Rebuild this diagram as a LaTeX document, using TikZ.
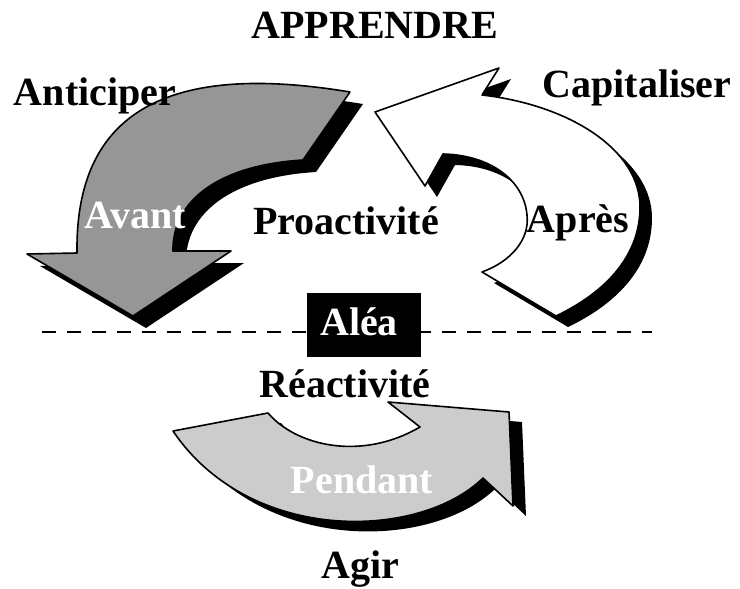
\documentclass[tikz,border=0pt]{standalone}
\usepackage{fontspec}
\setmainfont{Liberation Serif}
\begin{document}
\definecolor{avantgray}{RGB}{150,150,150}
\definecolor{pendantgray}{RGB}{204,204,204}
% outlines of the three curved block arrows, in pixel-like units
\def\avantpath{(350,92) .. controls (170,62) and (75,110) .. (77,253)
  -- (27,254) -- (133,316) -- (231,251) -- (173,251)
  .. controls (172,200) and (220,165) .. (303,160) -- cycle}
\def\aprespath{(375,112) -- (499,68) -- (482,95)
  .. controls (570,105) and (640,150) .. (640,207)
  .. controls (640,260) and (600,295) .. (556,316)
  -- (482,272)
  .. controls (510,262) and (530,240) .. (527,215)
  .. controls (524,180) and (490,155) .. (443,154)
  -- (425,186) -- cycle}
\def\pendantpath{(173,431) -- (268,413)
  .. controls (295,445) and (360,462) .. (420,427)
  -- (388,402) -- (509,412) -- (513,506) -- (483,478)
  .. controls (420,540) and (250,545) .. (173,431) -- cycle}
\begin{tikzpicture}[x=1pt,y=-1pt,
    label text/.style={font=\bfseries\fontsize{40}{48}\selectfont, inner sep=0pt, anchor=base},
    arrow shadow/.style={fill=black},
    arrow body/.style={draw=black, line width=1.6pt, line join=round},
    timeline/.style={dashed, dash pattern=on 14pt off 11pt, line width=1.2pt}]
  \useasboundingbox (0,0) rectangle (740,589);
  \fill[white] (0,0) rectangle (740,589);

  % shadows
  \fill[arrow shadow, shift={(13,12)}] \avantpath;
  \fill[arrow shadow, shift={(12,11)}] \aprespath;
  \fill[arrow shadow, shift={(13,10)}] \pendantpath;

  % arrow bodies
  \filldraw[arrow body, fill=avantgray] \avantpath;
  \filldraw[arrow body, fill=white] \aprespath;
  \filldraw[arrow body, fill=pendantgray] \pendantpath;

  % separating line between proactivity and reactivity
  \coordinate (lineL) at (42,332);
  \coordinate (lineR) at (652,332);
  \draw[timeline] (lineL) -- (lineR);
  \node[fill=black, minimum width=114pt, minimum height=64pt, inner sep=0pt] (aleabox) at (364,325) {};
  \node[label text, text=white] (alea) at (359,335) {Aléa};

  % labels
  \node[label text] (apprendre) at (375,38) {APPRENDRE};
  \node[label text] (anticiper) at (95,105) {Anticiper};
  \node[label text] (capitaliser) at (637,97) {Capitaliser};
  \node[label text, text=white] (avant) at (135,228) {Avant};
  \node[label text] (proactivite) at (346,234) {Proactivité};
  \node[label text] (apres) at (578,232) {Après};
  \node[label text] (reactivite) at (345,397) {Réactivité};
  \node[label text, text=white] (pendant) at (362,493) {Pendant};
  \node[label text] (agir) at (360,578) {Agir};
\end{tikzpicture}
\end{document}
